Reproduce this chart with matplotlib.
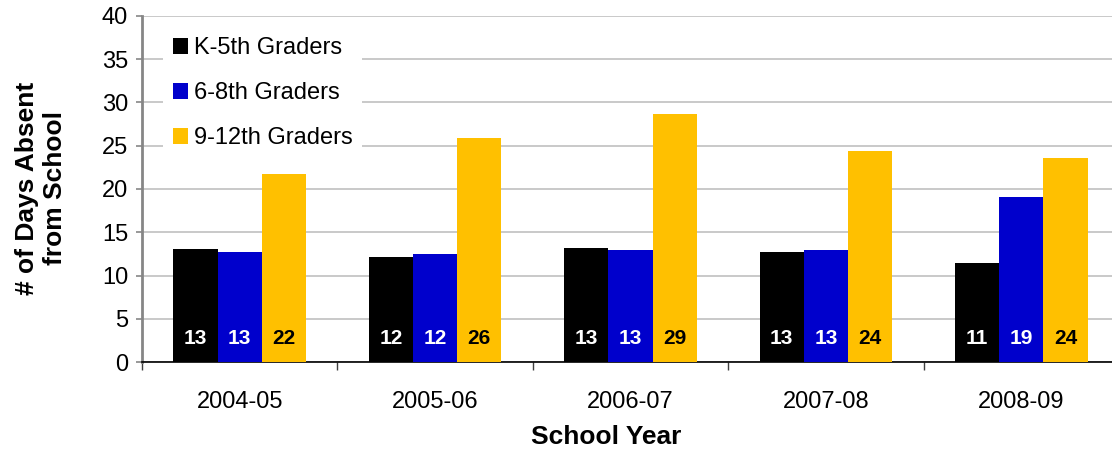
"""Average days absent from school by grade band and school year."""
import numpy as np
from matplotlib import pyplot as plt

years = ['2004-05', '2005-06', '2006-07', '2007-08', '2008-09']
k5_days = [13.08, 12.19, 13.19, 12.76, 11.46]
g68_days = [12.73, 12.45, 13.0, 12.96, 19.08]
g912_days = [21.75, 25.9, 28.7, 24.4, 23.55]

series = [
    ('K-5th Graders', k5_days, '#000000', 'white'),
    ('6-8th Graders', g68_days, '#0000CC', 'white'),
    ('9-12th Graders', g912_days, '#FFC000', 'black'),
]

plt.rcParams['font.family'] = ['Liberation Sans', 'DejaVu Sans']

fig = plt.figure(figsize=(11.12, 4.51), dpi=100)
ax = fig.add_axes([0.1277, 0.1967, 0.8786, 0.7685])

x = np.arange(len(years))
width = 0.226
for i, (name, vals, color, txtcolor) in enumerate(series):
    pos = x + (i - 1) * width
    ax.bar(pos, vals, width, color=color, label=name, zorder=3)
    for px, v in zip(pos, vals):
        ax.text(px, 2.7, f'{round(v):d}', ha='center', va='center',
                color=txtcolor, fontsize=15, fontweight='bold', zorder=4)

ax.set_ylim(0, 40)
ax.set_yticks(np.arange(0, 41, 5))
ax.set_xlim(-0.5, len(years) - 0.5)
ax.yaxis.grid(True, color='#c0c0c0', linewidth=1.2, zorder=0)
ax.set_axisbelow(True)

# major ticks sit between groups, labels go on minor ticks at the centres
ax.set_xticks(np.arange(-0.5, len(years), 1.0))
ax.set_xticklabels([])
ax.set_xticks(x, minor=True)
ax.set_xticklabels(years, minor=True)
ax.tick_params(axis='x', which='major', length=6, width=1, color='#404040')
ax.tick_params(axis='x', which='minor', length=0, pad=21, labelsize=17)
ax.tick_params(axis='y', length=4, width=1.2, color='#868686', pad=6,
               labelsize=17)

for side in ('top', 'right'):
    ax.spines[side].set_visible(False)
ax.spines['left'].set_color('#868686')
ax.spines['left'].set_linewidth(2)
ax.spines['bottom'].set_color('black')
ax.spines['bottom'].set_linewidth(1.2)

leg = ax.legend(loc='upper left', bbox_to_anchor=(0.022, 0.965),
                fontsize=17, frameon=True, facecolor='white',
                edgecolor='none', framealpha=1, handlelength=0.65,
                handleheight=0.65, handletextpad=0.25, labelspacing=0.97,
                borderpad=0.4, borderaxespad=0)
leg.set_zorder(5)

fig.text(41 / 1112, 1 - 188 / 451, '# of Days Absent\nfrom School',
         rotation=90, ha='center', va='center', fontsize=19,
         fontweight='bold', linespacing=1.2)
fig.text(606 / 1112, 1 - 437 / 451, 'School Year', ha='center', va='center',
         fontsize=19, fontweight='bold')

fig.savefig('out.png', dpi=100)
